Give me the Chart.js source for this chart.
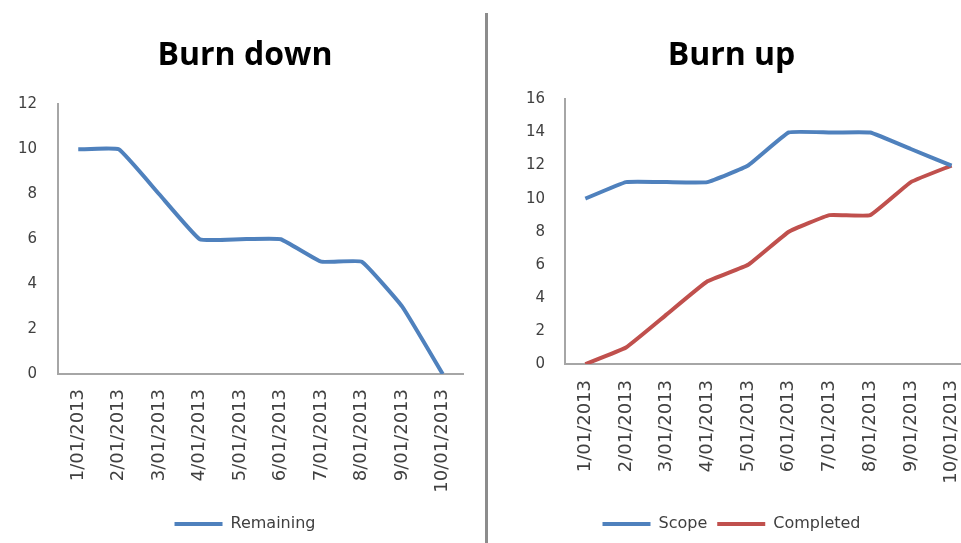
<!DOCTYPE html>
<html>
<head>
<meta charset="utf-8">
<title>Burn down / Burn up</title>
<script src="https://cdn.jsdelivr.net/npm/chart.js@4.4.0/dist/chart.umd.min.js"></script>
<style>
  html, body { margin: 0; padding: 0; background: #fff; overflow: hidden; }
  #wrap { position: relative; width: 961px; height: 543px; overflow: hidden; background: #fff; }
  #burnDown { position: absolute; left: 0; top: 0; }
  #burnUp { position: absolute; left: 490px; top: 0; }
  .divider { position: absolute; left: 485px; top: 13px; width: 3px; height: 530px; background: #8c8c8c; }
</style>
</head>
<body>
<div id="wrap">
  <canvas id="burnDown" width="490" height="543"></canvas>
  <canvas id="burnUp" width="500" height="543"></canvas>
  <div class="divider"></div>
</div>
<script>
    // Sprint data
    const dates = ['1/01/2013', '2/01/2013', '3/01/2013', '4/01/2013', '5/01/2013',
                   '6/01/2013', '7/01/2013', '8/01/2013', '9/01/2013', '10/01/2013'];
    const remaining = [10, 10, 8, 6, 6, 6, 5, 5, 3, 0];
    const scope = [10, 11, 11, 11, 12, 14, 14, 14, 13, 12];
    const completed = [0, 1, 3, 5, 6, 8, 9, 9, 11, 12];

    const burnDownMax = 12;
    const burnUpMax = 16;
    const yStep = 2;

    const BLUE = '#4f81bd';
    const RED = '#c0504d';
    const AXIS = '#a6a6a6';
    const TEXT = '#404040';

    function lineSet(label, data, color) {
      return {
        label: label,
        data: data,
        borderColor: color,
        backgroundColor: color,
        borderWidth: 4,
        pointRadius: 0,
        tension: 0.1,
        fill: false
      };
    }

    function makeChart(id, title, datasets, yMax, cfg) {
      const ctx = document.getElementById(id).getContext('2d');
      const scales = {
        x: {
          offset: true,
          grid: { display: false, drawTicks: false },
          border: { display: true, color: AXIS, width: 2 },
          ticks: {
            autoSkip: false,
            minRotation: 90,
            maxRotation: 90,
            padding: cfg.xLabelPad,
            color: TEXT,
            font: { family: 'DejaVu Sans', size: 18 }
          },
          afterFit: s => { s.height = cfg.xHeight; }
        },
        y: {
          min: 0,
          max: yMax,
          grid: { display: false, drawTicks: false },
          border: { display: true, color: AXIS, width: 2 },
          ticks: {
            stepSize: yStep,
            padding: cfg.yLabelPad,
            color: TEXT,
            font: { family: 'DejaVu Sans', size: 15 }
          },
          afterFit: s => { s.width = cfg.yWidth; }
        }
      };
      // empty right-hand spacer so the title and legend sit where they do in the original
      if (cfg.rightGap) {
        scales.gap = {
          type: 'linear',
          position: 'right',
          grid: { display: false, drawTicks: false },
          border: { display: false },
          ticks: { display: false },
          afterFit: s => { s.width = cfg.rightGap; }
        };
      }
      return new Chart(ctx, {
        type: 'line',
        data: { labels: dates, datasets: datasets },
        options: {
          responsive: false,
          animation: false,
          layout: { padding: cfg.pad },
          scales: scales,
          plugins: {
            title: {
              display: true,
              text: title,
              color: '#000',
              font: { family: 'Open Sans', size: 32, weight: 'bold', lineHeight: 1.2 },
              padding: cfg.titlePad
            },
            legend: {
              position: 'bottom',
              labels: {
                usePointStyle: true,
                pointStyle: 'line',
                pointStyleWidth: 48,
                padding: 10,
                color: TEXT,
                font: { family: 'DejaVu Sans', size: 16 }
              }
            },
            tooltip: { enabled: false }
          }
        }
      });
    }

    makeChart('burnDown', 'Burn down', [lineSet('Remaining', remaining, BLUE)], burnDownMax, {
      pad: { left: 0, right: 0, top: 0, bottom: 1 },
      yWidth: 58,
      yLabelPad: 21,
      rightGap: 27,
      xHeight: 132,
      xLabelPad: 15,
      titlePad: { top: 37, bottom: 29 }
    });

    makeChart('burnUp', 'Burn up', [
      lineSet('Scope', scope, BLUE),
      lineSet('Completed', completed, RED)
    ], burnUpMax, {
      pad: { left: 0, right: 17, top: 0, bottom: 1 },
      yWidth: 75,
      yLabelPad: 20,
      xHeight: 142,
      xLabelPad: 16,
      titlePad: { top: 37, bottom: 24 }
    });
</script>
</body>
</html>
